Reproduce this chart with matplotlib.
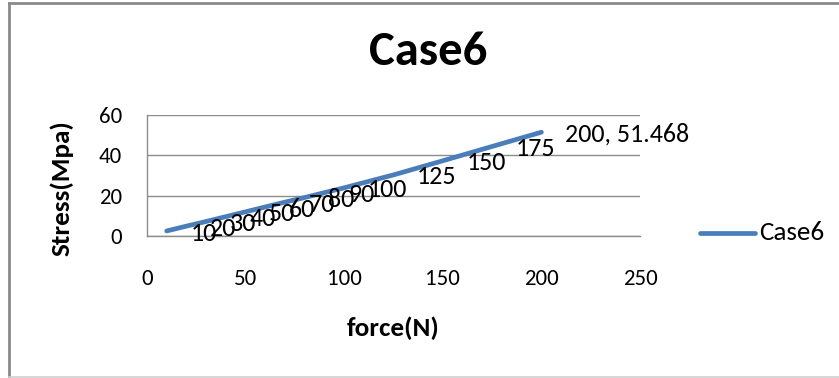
import matplotlib
matplotlib.use("Agg")
import matplotlib.pyplot as plt
from matplotlib.lines import Line2D

# Force (N) and resulting stress (MPa) for Case6
force = [10, 20, 30, 40, 50, 60, 70, 80, 90, 100, 125, 150, 175, 200]
stress = [2.5, 4.9, 7.2, 9.6, 12.0, 14.4, 16.8, 19.1, 21.5, 23.9, 30.3, 37.3, 44.4, 51.468]
series_name = "Case6"
x_ticks = [0, 50, 100, 150, 200, 250]
y_ticks = [0, 20, 40, 60]

FONT = ["Carlito", "Lato", "DejaVu Sans"]
plt.rcParams["font.family"] = FONT

W, H = 839, 378
fig = plt.figure(figsize=(W / 100, H / 100), dpi=100)
ax = fig.add_axes([147 / W, 1 - 236 / H, (640 - 147) / W, (236 - 115) / H])

blue = "#4A7EBB"
ax.plot(force, stress, color=blue, lw=3.4, solid_capstyle="round", label=series_name)

ax.set_xlim(0, 250)
ax.set_ylim(0, 60)
ax.set_xticks(x_ticks)
ax.set_yticks(y_ticks)
ax.tick_params(axis="both", length=0, labelsize=16.5, colors="black")
ax.tick_params(axis="x", pad=24)
ax.tick_params(axis="y", pad=18)

ax.grid(axis="y", color="#8c8c8c", lw=1.0)
ax.set_axisbelow(True)
for side in ("top", "right"):
    ax.spines[side].set_visible(False)
for side in ("left", "bottom"):
    ax.spines[side].set_color("#8c8c8c")
    ax.spines[side].set_linewidth(1.0)

# Data labels to the right of each point
for i, (x, y) in enumerate(zip(force, stress)):
    txt = f"{x}, {y:g}" if i == len(force) - 1 else f"{x}"
    ax.annotate(txt, (x, y), xytext=(17, -1.5), textcoords="offset points",
                ha="left", va="center", fontsize=18.7, color="black",
                annotation_clip=False)

fig.text(428 / W, 1 - 52 / H, "Case6", ha="center", va="center",
         fontsize=35, fontweight="bold")
fig.text(393 / W, 1 - 328 / H, "force(N)", ha="center", va="center",
         fontsize=19.5, fontweight="bold")
fig.text(62 / W, 1 - 188 / H, "Stress(Mpa)", ha="center", va="center",
         rotation=90, fontsize=19.5, fontweight="bold")

# Legend entry
fig.add_artist(Line2D([700 / W, 755 / W], [1 - 233 / H, 1 - 233 / H],
                      transform=fig.transFigure, color=blue, lw=3.4,
                      solid_capstyle="round"))
fig.text(759 / W, 1 - 233 / H, series_name, ha="left", va="center", fontsize=19.5)

# Chart frame
fig.add_artist(Line2D([9 / W, 9 / W], [0, 1 - 2.5 / H], transform=fig.transFigure,
                      color="#8a8a8a", lw=2.0))
fig.add_artist(Line2D([9 / W, 1], [1 - 2.5 / H, 1 - 2.5 / H], transform=fig.transFigure,
                      color="#8a8a8a", lw=2.0))
fig.add_artist(Line2D([9 / W, 1], [0.8 / H, 0.8 / H], transform=fig.transFigure,
                      color="#d0d0d0", lw=1.2))

fig.savefig("out.png", dpi=100)
